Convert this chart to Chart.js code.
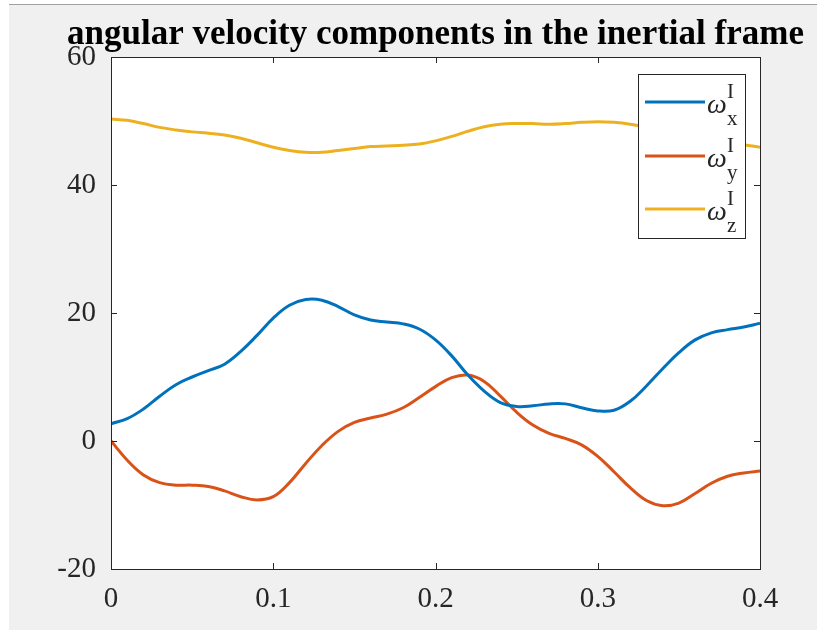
<!DOCTYPE html>
<html lang="en">
<head>
  <meta charset="UTF-8" />
  <title>Angular velocity components</title>
  <script src="https://cdn.jsdelivr.net/npm/chart.js"></script>
  <style>
    html, body { margin: 0; padding: 0; background: #fff; }
    #wrap { width: 817px; height: 630px; }
  </style>
</head>
<body>
  <div id="wrap"><canvas id="omegaChart" width="817" height="630"></canvas></div>

  <script>
    // time samples (s) and the three components
    const t = [0, 0.01, 0.02, 0.03, 0.04, 0.05, 0.06, 0.07, 0.08, 0.09,
               0.10, 0.11, 0.12, 0.13, 0.14, 0.15, 0.16, 0.17, 0.18, 0.19,
               0.20, 0.21, 0.22, 0.23, 0.24, 0.25, 0.26, 0.27, 0.28, 0.29,
               0.30, 0.31, 0.32, 0.33, 0.34, 0.35, 0.36, 0.37, 0.38, 0.39, 0.40];
    const wx = [2.7, 3.5, 5.0, 7.0, 8.8, 10.0, 11.0, 12.0, 14.0, 16.5,
                19.2, 21.2, 22.1, 22.0, 21.0, 19.7, 18.9, 18.6, 18.3, 17.5,
                15.8, 13.3, 10.3, 7.8, 6.0, 5.4, 5.5, 5.8, 5.8, 5.2,
                4.7, 4.8, 6.2, 8.6, 11.3, 13.8, 15.8, 16.9, 17.4, 17.8, 18.4];
    const wy = [0, -3.0, -5.3, -6.5, -6.9, -6.9, -7.1, -7.8, -8.7, -9.2,
                -8.7, -6.5, -3.5, -0.7, 1.5, 2.9, 3.6, 4.2, 5.2, 6.8,
                8.5, 9.9, 10.3, 9.3, 7.0, 4.5, 2.5, 1.2, 0.4, -0.6,
                -2.4, -4.8, -7.3, -9.3, -10.1, -9.7, -8.2, -6.6, -5.5, -5.0, -4.7];
    const wz = [50.3, 50.1, 49.6, 49.0, 48.6, 48.3, 48.1, 47.8, 47.3, 46.6,
                45.9, 45.4, 45.1, 45.1, 45.4, 45.7, 46.0, 46.1, 46.2, 46.4,
                46.9, 47.6, 48.4, 49.1, 49.5, 49.6, 49.6, 49.5, 49.6, 49.8,
                49.9, 49.8, 49.5, 49.0, 48.4, 47.8, 47.3, 46.9, 46.6, 46.3, 45.9];
    const subs = ['x', 'y', 'z'];
    const colors = ['#0072BD', '#D95319', '#EDB120'];
    const titleText = 'angular velocity components in the inertial frame';

    const serif = '"Liberation Serif", "Times New Roman", serif';
    const axisColor = '#262626';

    function pts(ys) {
      return t.map((x, i) => ({ x: x, y: ys[i] }));
    }

    // grey figure background, white axes, box, inward ticks, title, legend
    const matlabLook = {
      id: 'matlabLook',
      beforeDraw(chart) {
        const { ctx, chartArea: a } = chart;
        ctx.save();
        ctx.fillStyle = '#f0f0f0';
        ctx.fillRect(9, 5, chart.width - 9, chart.height - 5);
        ctx.fillStyle = '#a0a0a0';
        ctx.fillRect(9, 4, chart.width - 9, 1);
        ctx.fillStyle = '#fff';
        ctx.fillRect(a.left, a.top, a.right - a.left, a.bottom - a.top);
        ctx.restore();
      },
      afterDatasetsDraw(chart) {
        const { ctx, chartArea: a, scales } = chart;
        ctx.save();
        ctx.strokeStyle = axisColor;
        ctx.lineWidth = 1;
        ctx.beginPath();
        const tick = 6;
        scales.x.ticks.forEach(tk => {
          const px = Math.round(scales.x.getPixelForValue(tk.value)) + 0.5;
          ctx.moveTo(px, a.bottom); ctx.lineTo(px, a.bottom - tick);
          ctx.moveTo(px, a.top); ctx.lineTo(px, a.top + tick);
        });
        scales.y.ticks.forEach(tk => {
          const py = Math.round(scales.y.getPixelForValue(tk.value)) + 0.5;
          ctx.moveTo(a.left, py); ctx.lineTo(a.left + tick, py);
          ctx.moveTo(a.right, py); ctx.lineTo(a.right - tick, py);
        });
        ctx.stroke();
        ctx.strokeRect(Math.round(a.left) + 0.5, Math.round(a.top) + 0.5,
                       Math.round(a.right - a.left), Math.round(a.bottom - a.top));

        // title
        ctx.fillStyle = '#000';
        ctx.font = 'bold 35px ' + serif;
        ctx.textAlign = 'center';
        ctx.textBaseline = 'alphabetic';
        ctx.fillText(titleText, (a.left + a.right) / 2, 44);

        // legend
        const lx = 638, ly = 74, lw = 107, lh = 164;
        ctx.fillStyle = '#fff';
        ctx.fillRect(lx, ly, lw, lh);
        ctx.strokeStyle = '#262626';
        ctx.lineWidth = 1;
        ctx.strokeRect(lx + 0.5, ly + 0.5, lw, lh);
        const rows = [102, 156, 209];
        rows.forEach((ry, i) => {
          ctx.strokeStyle = colors[i];
          ctx.lineWidth = 3;
          ctx.beginPath();
          ctx.moveTo(645, ry); ctx.lineTo(705, ry);
          ctx.stroke();
          ctx.fillStyle = axisColor;
          ctx.textAlign = 'left';
          ctx.font = 'italic 28px ' + serif;
          ctx.fillText('\u03c9', 707, ry + 11);
          ctx.font = '21px ' + serif;
          ctx.fillText('I', 727, ry - 4);
          ctx.fillText(subs[i], 727, ry + 23);
        });
        ctx.restore();
      }
    };

    new Chart(document.getElementById('omegaChart'), {
      type: 'line',
      data: {
        datasets: [wx, wy, wz].map((ys, i) => ({
          label: '\u03c9' + subs[i] + 'I',
          data: pts(ys),
          borderColor: colors[i],
          borderWidth: 3,
          pointRadius: 0,
          tension: 0.4,
          fill: false
        }))
      },
      options: {
        responsive: false,
        animation: false,
        layout: { padding: { top: 57, right: 57, left: 0, bottom: 0 } },
        plugins: {
          legend: { display: false },
          title: { display: false },
          tooltip: { enabled: false }
        },
        scales: {
          x: {
            type: 'linear',
            min: 0, max: 0.4,
            afterFit(s) { s.height = 61; },
            grid: { display: false, drawTicks: false },
            border: { display: false },
            ticks: {
              stepSize: 0.1,
              padding: 13,
              color: axisColor,
              font: { family: serif, size: 29 },
              maxRotation: 0
            }
          },
          y: {
            min: -20, max: 60,
            afterFit(s) { s.width = 111; },
            grid: { display: false, drawTicks: false },
            border: { display: false },
            ticks: {
              stepSize: 20,
              padding: 15,
              color: axisColor,
              font: { family: serif, size: 29 }
            }
          }
        }
      },
      plugins: [matlabLook]
    });
  </script>
</body>
</html>
